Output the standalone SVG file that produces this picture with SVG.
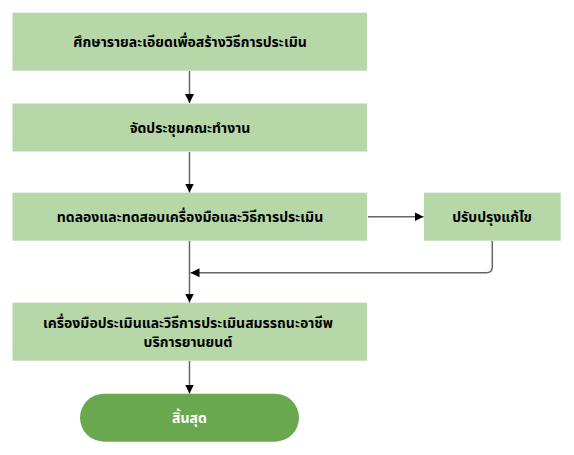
<svg xmlns="http://www.w3.org/2000/svg" width="574" height="455" viewBox="0 0 574 455">
<style>
.box{fill:#b6d7a8;}
.term{fill:#6aa84f;}
.t{font-family:Tahoma,"Noto Sans Thai","Noto Sans","DejaVu Sans",sans-serif;font-size:14px;font-weight:bold;fill:#000;text-anchor:middle;dominant-baseline:central;}
.tw{fill:#fff;}
.c{fill:none;stroke:#666;stroke-width:1.5;}
</style>
<defs>
<marker id="ah" markerWidth="10" markerHeight="10" refX="9" refY="5" orient="auto" markerUnits="userSpaceOnUse">
<path d="M0,0.5 L9,5 L0,9.5 Z" fill="#000"/>
</marker>
</defs>
<g id="n1"><rect class="box" x="12.5" y="12.7" width="354.5" height="58"/><text class="t" x="190" y="42">ศึกษารายละเอียดเพื่อสร้างวิธีการประเมิน</text></g>
<g id="n2"><rect class="box" x="12.5" y="103.5" width="354.5" height="48"/><text class="t" x="190" y="128">จัดประชุมคณะทำงาน</text></g>
<g id="n3"><rect class="box" x="12.5" y="192.7" width="354.5" height="48"/><text class="t" x="190" y="217">ทดลองและทดสอบเครื่องมือและวิธีการประเมิน</text></g>
<g id="n4"><rect class="box" x="424" y="192.7" width="136.7" height="48"/><text class="t" x="492" y="217">ปรับปรุงแก้ไข</text></g>
<g id="n5"><rect class="box" x="12.5" y="302.7" width="354.5" height="58"/><text class="t" x="188" y="323">เครื่องมือประเมินและวิธีการประเมินสมรรถนะอาชีพ</text><text class="t" x="188" y="342">บริการยานยนต์</text></g>
<g id="n6"><rect class="term" x="80" y="393.7" width="219" height="48" rx="24" ry="24"/><text class="t tw" x="189.5" y="418">สิ้นสุด</text></g>
<g id="connectors">
<path class="c" d="M189.5,71 V103" marker-end="url(#ah)"/>
<path class="c" d="M189.5,152 V192.5" marker-end="url(#ah)"/>
<path class="c" d="M368,216.7 H423.5" marker-end="url(#ah)"/>
<path class="c" d="M189.5,241 V302.5" marker-end="url(#ah)"/>
<path class="c" d="M492.3,241 V266.7 Q492.3,272.7 486.3,272.7 H190.5" marker-end="url(#ah)"/>
<path class="c" d="M189.5,361 V393.5" marker-end="url(#ah)"/>
</g>
</svg>
